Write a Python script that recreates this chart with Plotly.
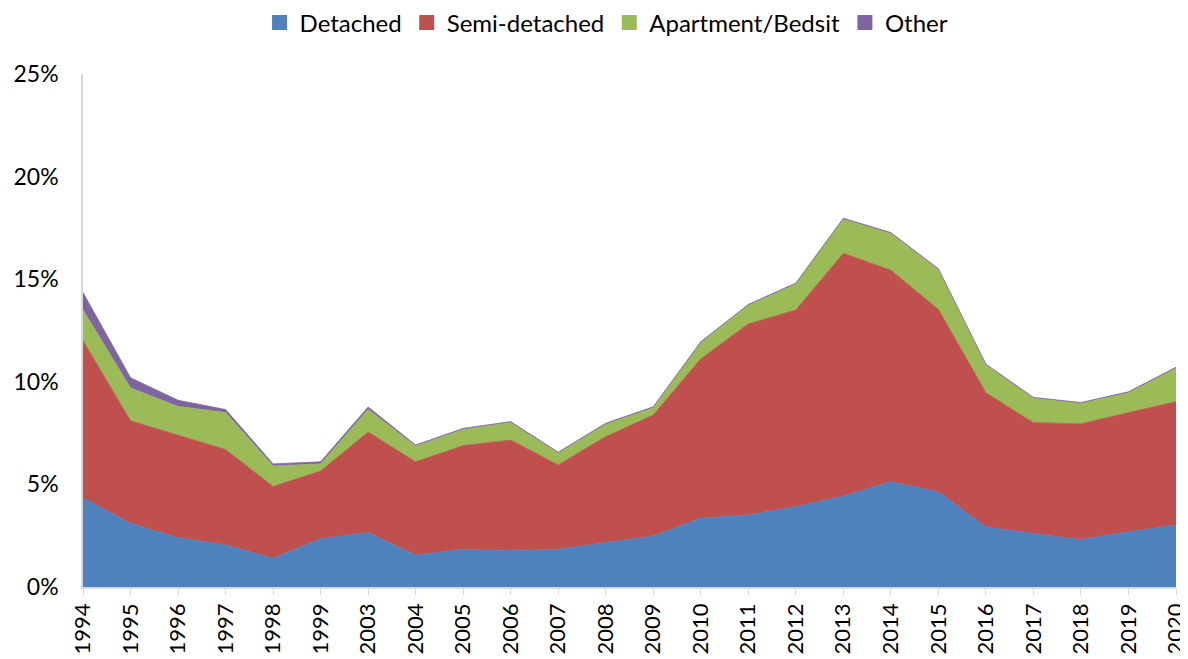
import plotly.graph_objects as go

years = ["1994", "1995", "1996", "1997", "1998", "1999", "2003", "2004", "2005", "2006",
         "2007", "2008", "2009", "2010", "2011", "2012", "2013", "2014", "2015", "2016",
         "2017", "2018", "2019", "2020"]

detached = [4.35, 3.1, 2.4, 2.05, 1.4, 2.35, 2.65, 1.55, 1.84, 1.77, 1.84, 2.16, 2.48,
            3.35, 3.51, 3.91, 4.43, 5.13, 4.64, 2.94, 2.6, 2.31, 2.69, 3.02]
semi_detached = [7.65, 5.0, 5.0, 4.65, 3.5, 3.3, 4.9, 4.55, 5.05, 5.39, 4.11, 5.17, 5.9,
                 7.77, 9.31, 9.59, 11.83, 10.31, 8.89, 6.53, 5.41, 5.64, 5.81, 6.01]
apartment = [1.5, 1.6, 1.4, 1.8, 1.0, 0.35, 1.1, 0.77, 0.79, 0.86, 0.58, 0.6, 0.36,
             0.78, 0.91, 1.27, 1.66, 1.79, 1.94, 1.35, 1.19, 1.0, 0.97, 1.63]
other = [0.85, 0.5, 0.3, 0.15, 0.1, 0.1, 0.12, 0.05, 0.05, 0.04, 0.04, 0.05, 0.04,
         0.05, 0.04, 0.04, 0.05, 0.04, 0.04, 0.04, 0.04, 0.04, 0.04, 0.05]

series = [
    ("Detached", detached, "#4F81BD"),
    ("Semi-detached", semi_detached, "#C0504D"),
    ("Apartment/Bedsit", apartment, "#9BBB59"),
    ("Other", other, "#8064A2"),
]

fig = go.Figure()
for name, vals, color in series:
    fig.add_trace(go.Scatter(
        x=years, y=[v / 100 for v in vals], name=name,
        mode="lines", stackgroup="one", showlegend=False,
        line=dict(color=color, width=0.8), fillcolor=color,
    ))
# legend entries with square symbols
for name, vals, color in series:
    fig.add_trace(go.Scatter(
        x=[None], y=[None], name=name, mode="markers",
        marker=dict(symbol="square", size=15, color=color),
        showlegend=True,
    ))

# the page body has an 8px margin, so the figure is sized to fit the window
fig.update_layout(
    width=1180, height=651,
    margin=dict(l=75, r=12, t=66, b=72),
    paper_bgcolor="white", plot_bgcolor="white",
    font=dict(family="Lato, Open Sans, sans-serif", size=23, color="#000000"),
    showlegend=True,
    legend=dict(orientation="h", x=0.479, xanchor="center", y=0.977, yanchor="middle",
                yref="container", font=dict(size=24), traceorder="normal",
                itemwidth=30, tracegroupgap=0),
    xaxis=dict(type="category", range=[0, 23], tickangle=-90, automargin=False,
               showline=True, linecolor="#D9D9D9", linewidth=1.5,
               ticks="outside", ticklen=6, tickcolor="#D9D9D9",
               showgrid=False, tickfont=dict(size=22)),
    yaxis=dict(range=[0, 0.25], dtick=0.05, tickformat=".0%", automargin=False,
               showline=True, linecolor="#D9D9D9", linewidth=1.5,
               showgrid=False, zeroline=False, ticks="",
               ticklabelstandoff=18, tickfont=dict(size=23)),
)

fig.write_html("out.html")
